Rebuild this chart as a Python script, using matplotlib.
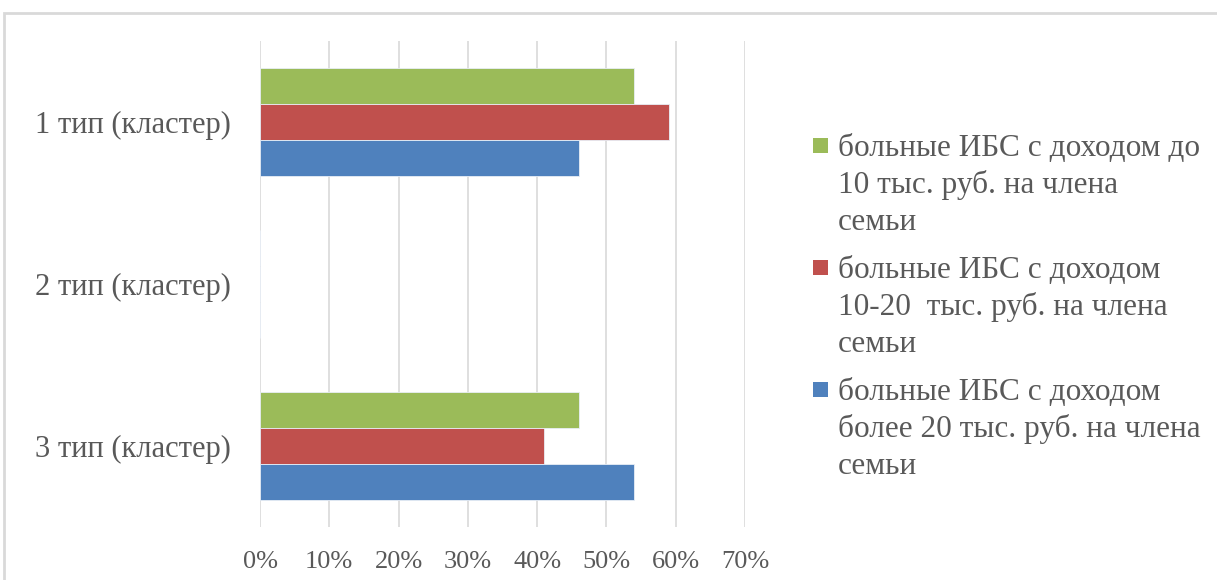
import matplotlib.pyplot as plt
import matplotlib.patches as mpatches
import numpy as np
from matplotlib.ticker import FuncFormatter

plt.rcParams['font.family'] = ['Liberation Serif', 'DejaVu Serif']

# --- Data
categories = ['1 тип (кластер)', '2 тип (кластер)', '3 тип (кластер)']
series_labels = [
    'больные ИБС с доходом до\n10 тыс. руб. на члена\nсемьи',
    'больные ИБС с доходом\n10-20  тыс. руб. на члена\nсемьи',
    'больные ИБС с доходом\nболее 20 тыс. руб. на члена\nсемьи',
]
income_low = [0.54, 0.0, 0.46]     # до 10 тыс.
income_mid = [0.59, 0.0, 0.41]     # 10-20 тыс.
income_high = [0.46, 0.0, 0.54]    # более 20 тыс.
x_ticks = [0, 0.1, 0.2, 0.3, 0.4, 0.5, 0.6, 0.7]

colors = ['#9BBB59', '#C0504D', '#4F81BD']
text_color = '#595959'
grid_color = '#D9D9D9'

W, H, DPI = 1217, 580, 100
fig = plt.figure(figsize=(W / DPI, H / DPI), dpi=DPI)
fig.patch.set_facecolor('white')

# outer chart frame (partially cropped like the source)
frame = mpatches.Rectangle((4 / W, -0.1), 1.2, 1 - 13 / H + 0.1,
                           transform=fig.transFigure, fill=False,
                           edgecolor=grid_color, linewidth=2.0)
fig.patches.append(frame)

left, right, top, bottom = 260, 745, 41, 527
ax = fig.add_axes([left / W, 1 - bottom / H, (right - left) / W, (bottom - top) / H])

y = np.arange(len(categories))
h = 0.222
for vals, off, c in zip([income_low, income_mid, income_high], [-1, 0, 1], colors):
    ax.barh(y + off * h, vals, height=h, color=c, edgecolor='#E8EEF6',
            linewidth=0.6, zorder=3)

ax.set_xlim(0, 0.7)
ax.set_ylim(2.5, -0.5)
ax.set_xticks(x_ticks)
ax.xaxis.set_major_formatter(FuncFormatter(lambda v, p: f'{v * 100:.0f}%'))
ax.set_yticks(y)
ax.set_yticklabels(categories)
ax.grid(axis='x', color=grid_color, linewidth=1.2, zorder=0)
for s in ax.spines.values():
    s.set_visible(False)
ax.tick_params(axis='both', length=0, colors=text_color)
ax.tick_params(axis='x', pad=17, labelsize=19)
ax.tick_params(axis='y', pad=21, labelsize=22)

# --- Legend (drawn manually so markers align to the first text line)
leg_x_marker = 813 / W
leg_x_text = 838 / W
first_baselines = [156, 278, 400]
line_step = 37
msize = 15
for lab, c, base in zip(series_labels, colors, first_baselines):
    fig.patches.append(mpatches.Rectangle(
        (leg_x_marker, 1 - (base - 3) / H), msize / W, msize / H,
        transform=fig.transFigure, facecolor=c, edgecolor='none'))
    for k, line in enumerate(lab.split('\n')):
        fig.text(leg_x_text, 1 - (base + k * line_step) / H, line,
                 fontsize=22.5, color=text_color, va='baseline', ha='left')

fig.savefig('out.png', dpi=DPI)
